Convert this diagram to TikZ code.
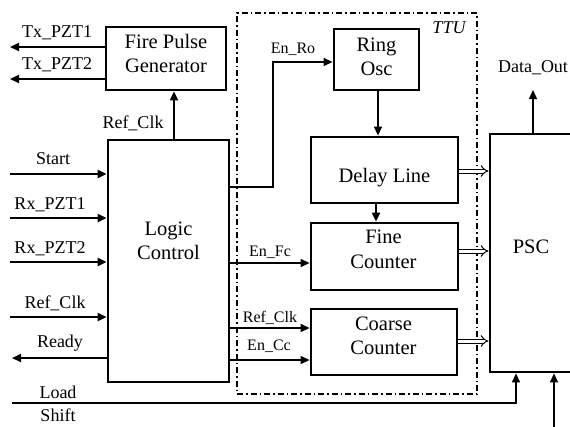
\documentclass[tikz,border=0pt]{standalone}
\usepackage{fontspec}
\setmainfont{Liberation Serif}
\usetikzlibrary{arrows.meta}
\begin{document}
\begin{tikzpicture}[x=1pt,y=-1pt,
  box/.style={draw,line width=2.8pt,inner sep=0pt},
  btext/.style={align=center,inner sep=0pt,font=\fontsize{20.5}{24.5}\selectfont},
  olab/.style={anchor=base,inner sep=0pt,font=\fontsize{18}{20}\selectfont},
  ilab/.style={anchor=base,inner sep=0pt,font=\fontsize{16}{18}\selectfont},
  arr/.style={line width=2pt,-{Triangle[length=9pt,width=8pt]}},
  arrthin/.style={line width=1.3pt,-{Triangle[length=9pt,width=8pt]}},
  bus/.style={double,double distance=3pt,line width=1pt,-{Implies[length=6pt]}},
  ttubox/.style={draw,line width=1.5pt,dash pattern=on 6pt off 3pt on 1.5pt off 3pt,inner sep=0pt}
]
\useasboundingbox (0,0) rectangle (570,426);
% TTU frame
\node[ttubox,minimum width=240pt,minimum height=381pt] (ttu) at (357,203.5) {};
\node[anchor=base,inner sep=0pt,font=\fontsize{18}{20}\selectfont\itshape] (ttul) at (449,33) {TTU};
% boxes
\node[box,minimum width=120pt,minimum height=63pt] (fpg) at (166,58.5) {};
\node[btext] (fpgt) at (166,53.5) {Fire Pulse\\Generator};
\node[box,minimum width=121pt,minimum height=242pt] (lc) at (168.5,261) {};
\node[btext] (lct) at (168.5,241) {Logic\\Control};
\node[box,minimum width=85pt,minimum height=61pt] (ring) at (376.5,59.5) {};
\node[btext] (ringt) at (376.5,57) {Ring\\Osc};
\node[box,minimum width=147pt,minimum height=66pt] (delay) at (384.5,170) {};
\node[btext] (delayt) at (384.5,178) {Delay Line};
\node[box,minimum width=147pt,minimum height=67pt] (fine) at (384.5,256.5) {};
\node[btext] (finet) at (383.5,249.5) {Fine\\Counter};
\node[box,minimum width=146pt,minimum height=66pt] (coarse) at (384,342) {};
\node[btext] (coarset) at (383.5,336) {Coarse\\Counter};
\node[box,minimum width=120pt,minimum height=238pt] (psc) at (550,253) {};
\node[btext] (psct) at (531,247) {PSC};
% outer labels
\node[olab] (ltx1) at (57,37) {Tx\_PZT1};
\node[olab] (ltx2) at (57,69) {Tx\_PZT2};
\node[olab] (lrc) at (133,128) {Ref\_Clk};
\node[olab] (lstart) at (53,164) {Start};
\node[olab] (lrx1) at (50,209) {Rx\_PZT1};
\node[olab] (lrx2) at (50,253) {Rx\_PZT2};
\node[olab] (lrc2) at (55,308) {Ref\_Clk};
\node[olab] (lready) at (60,347) {Ready};
\node[olab] (lload) at (58,398) {Load};
\node[olab] (lshift) at (58,421) {Shift};
\node[olab] (ldata) at (533,72) {Data\_Out};
% inner labels
\node[ilab] (lenro) at (293,53) {En\_Ro};
\node[ilab] (lenfc) at (270,256) {En\_Fc};
\node[ilab] (lrc3) at (270,322) {Ref\_Clk};
\node[ilab] (lencc) at (269,350) {En\_Cc};
% coordinates
\coordinate (tx1) at (10,47);
\coordinate (tx2) at (10,79);
\coordinate (rcx) at (174,0);
\coordinate (in1) at (10,174);
\coordinate (in2) at (10,218);
\coordinate (in3) at (10,262);
\coordinate (in4) at (10,317);
\coordinate (rdy) at (12,358);
\coordinate (enro1) at (273,187);
\coordinate (enro2) at (273,62);
\coordinate (rdx) at (378,0);
\coordinate (dfx) at (376,0);
\coordinate (enfc) at (0,263);
\coordinate (rcc) at (0,328);
\coordinate (encc) at (0,360);
\coordinate (b1) at (0,171);
\coordinate (b2) at (0,251);
\coordinate (b3) at (0,341);
\coordinate (dout) at (533,90);
\coordinate (load1) at (12,403);
\coordinate (load2) at (516,403);
\coordinate (shift1) at (554,432);
% connectors
\draw[arr] (tx1 -| fpg.west) -- (tx1);
\draw[arr] (tx2 -| fpg.west) -- (tx2);
\draw[arr] (rcx |- lc.north) -- (rcx |- fpg.south);
\draw[arr] (in1) -- (in1 -| lc.west);
\draw[arr] (in2) -- (in2 -| lc.west);
\draw[arr] (in3) -- (in3 -| lc.west);
\draw[arr] (in4) -- (in4 -| lc.west);
\draw[arr] (rdy -| lc.west) -- (rdy);
\draw[arrthin] (enro1 -| lc.east) -- (enro1) -- (enro2) -- (enro2 -| ring.west);
\draw[arrthin] (rdx |- ring.south) -- (rdx |- delay.north);
\draw[arr] (dfx |- delay.south) -- (dfx |- fine.north);
\draw[arrthin] (enfc -| lc.east) -- (enfc -| fine.west);
\draw[arrthin] (rcc -| lc.east) -- (rcc -| coarse.west);
\draw[arrthin] (encc -| lc.east) -- (encc -| coarse.west);
\draw[bus] (b1 -| delay.east) -- (b1 -| psc.west);
\draw[bus] (b2 -| fine.east) -- (b2 -| psc.west);
\draw[bus] (b3 -| coarse.east) -- (b3 -| psc.west);
\draw[arrthin] (dout |- psc.north) -- (dout);
\draw[arrthin] (load1) -- (load2) -- (load2 |- psc.south);
\draw[arrthin] (shift1) -- (shift1 |- psc.south);
\end{tikzpicture}
\end{document}
